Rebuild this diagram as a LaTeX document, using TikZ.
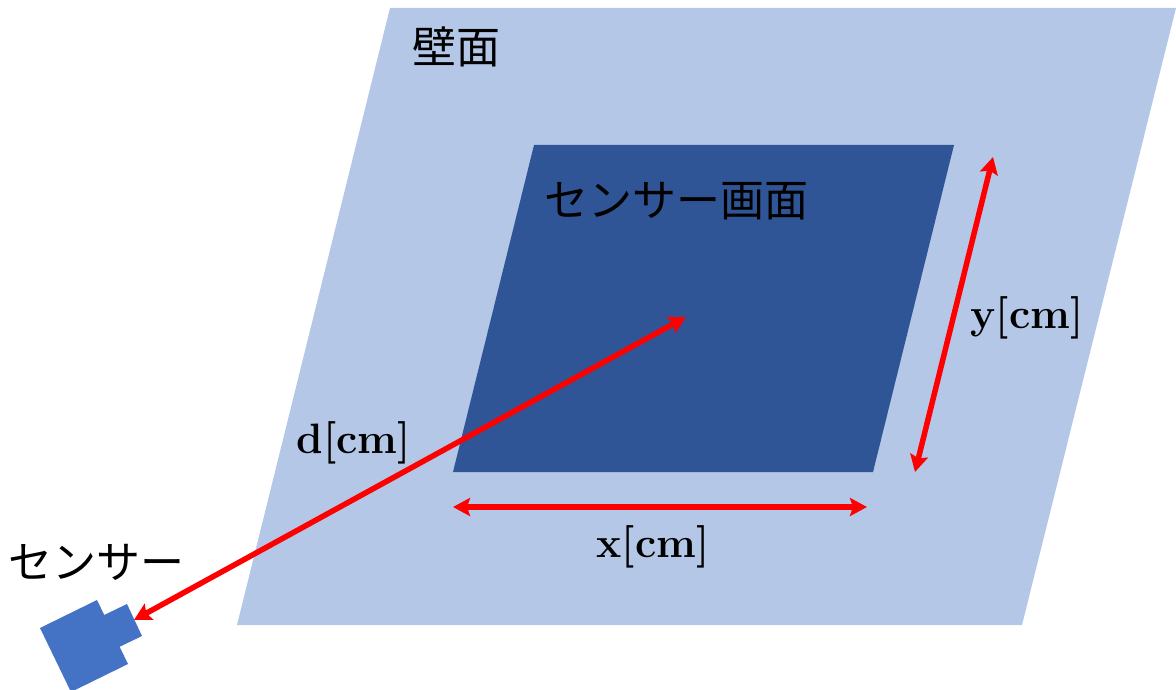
\documentclass[tikz,border=0pt]{standalone}
\usepackage{fontspec}
\usepackage{xcolor}
\usetikzlibrary{arrows.meta}
\newfontfamily\jpfont{Noto Sans CJK JP}
\definecolor{wallblue}{HTML}{B4C7E7}
\definecolor{screenblue}{HTML}{2F5597}
\definecolor{sensorblue}{HTML}{4472C4}

\begin{document}
\begin{tikzpicture}[x=1pt, y=-1pt, >={Stealth[length=17pt, width=18pt, inset=3pt]},
    jplabel/.style={inner sep=0pt, font=\jpfont\fontsize{44}{50}\selectfont},
    dimlabel/.style={inner sep=0pt, font=\bfseries\fontsize{42.5}{48}\selectfont},
    dimarrow/.style={<->, red, line width=5.5pt}]
    \useasboundingbox (0, 0) rectangle (1176, 690);

    % Wall and sensor screen
    \fill[wallblue] (390, 8) -- (1176, 8) -- (1022, 625) -- (237, 625) -- cycle;
    \fill[screenblue] (534, 145) -- (954, 145) -- (873, 472) -- (453, 472) -- cycle;

    % Sensor body and lens
    \fill[sensorblue] (40, 628) -- (97, 600) -- (128, 664) -- (71, 692) -- cycle;
    \fill[sensorblue] (100, 617) -- (127, 604) -- (142, 636) -- (115, 649) -- cycle;

    % Arrow ends
    \coordinate (sensortip) at (134, 620);
    \coordinate (screencenter) at (686, 317);
    \coordinate (xleft) at (453, 507);
    \coordinate (xright) at (867, 507);
    \coordinate (ytop) at (993, 157);
    \coordinate (ybottom) at (915, 472);

    % Distance and size arrows
    \draw[dimarrow] (sensortip) -- (screencenter);
    \draw[dimarrow] (xleft) -- (xright);
    \draw[dimarrow] (ytop) -- (ybottom);

    % Labels
    \node[jplabel] (walllabel) at (456, 47) {壁面};
    \node[jplabel, anchor=west] (screenlabel) at (544, 201) {センサー画面};
    \node[jplabel, anchor=west] (sensorlabel) at (8, 562) {センサー};
    \node[dimlabel] (dlabel) at (354, 443) {d[cm]};
    \node[dimlabel] (xlabel) at (653, 547) {x[cm]};
    \node[dimlabel] (ylabel) at (1027, 318) {y[cm]};

\end{tikzpicture}
\end{document}
